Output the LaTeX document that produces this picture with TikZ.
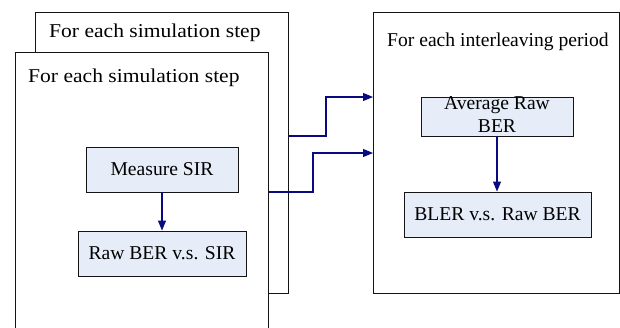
\documentclass[tikz,border=0pt]{standalone}
\usepackage{fontspec}
\setmainfont{Liberation Serif}
\usetikzlibrary{arrows.meta,calc}
\definecolor{boxfill}{RGB}{230,237,248}
\definecolor{arrcol}{RGB}{10,10,128}
\definecolor{framecol}{RGB}{20,20,20}
\begin{document}
\begin{tikzpicture}[x=1pt,y=-1pt,
  txt/.style={font=\fontsize{19.6}{23}\selectfont, inner sep=0pt},
  frame/.style={draw=framecol, line width=1pt, fill=white, anchor=north west, inner sep=0pt},
  stepbox/.style={draw=framecol, line width=0.9pt, fill=boxfill, inner sep=0pt, font=\fontsize{19.6}{23}\selectfont},
  arr/.style={draw=arrcol, line width=1.1pt, -{Triangle[length=10pt,width=8pt]}}]
\useasboundingbox (0,0) rectangle (620,327);
\clip (0,0) rectangle (620,327);
% back frame
\node[frame, minimum width=253pt, minimum height=281pt] (bk) at (35,12) {};
\node[txt, anchor=base west] (bklab) at (49,37) {\scalebox{1.1}[1]{For each simulation step}};
% front frame (extends below the picture)
\node[frame, minimum width=253pt, minimum height=320pt] (fr) at (15,52) {};
\node[txt, anchor=base west] (frlab) at (28,82) {\scalebox{1.1}[1]{For each simulation step}};
% right frame
\node[frame, minimum width=246pt, minimum height=281pt] (rf) at (373,12) {};
\node[txt, anchor=base west] (rflab) at (387,46) {For each interleaving period};
% inner boxes
\node[stepbox, minimum width=152pt, minimum height=45pt] (msir) at (162,169.5) {Measure SIR};
\node[stepbox, minimum width=168pt, minimum height=45pt] (rber) at (162,253.5) {Raw BER v.s. SIR};
\node[stepbox, minimum width=152pt, minimum height=39pt] (avg) at (497,116.5) {};
\node[txt, align=center] (avglab) at (497,115) {Average Raw\\BER};
\node[stepbox, minimum width=187pt, minimum height=45pt] (bler) at (497.5,214.5) {BLER v.s. Raw BER};
% arrows
\draw[arr] (msir) -- (rber);
\draw[arr] (avg.south -| avglab) -- (bler.north -| avglab);
\coordinate (c1) at (0,136);
\coordinate (t1) at (0,97);
\coordinate (c2) at (0,192);
\coordinate (t2) at (0,153);
\draw[arr] (bk.east |- c1) -- ++(37,0) |- (rf.west |- t1);
\draw[arr] (fr.east |- c2) -- ++(44,0) |- (rf.west |- t2);
\end{tikzpicture}
\end{document}
